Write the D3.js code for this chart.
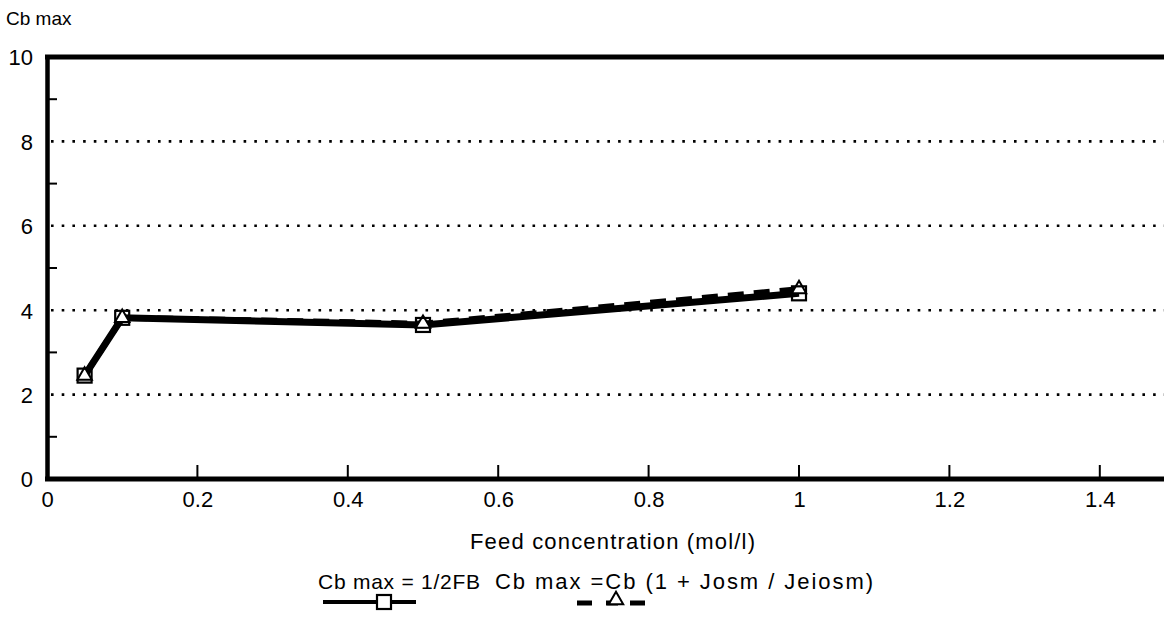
<!doctype html>
<html>
<head>
<meta charset="utf-8">
<script src="https://d3js.org/d3.v7.min.js"></script>
<style>
  body { margin: 0; background: #fff; }
  text { font-family: "Liberation Sans", Arial, sans-serif; fill: #000; }
</style>
</head>
<body>
<svg width="1164" height="620" id="chart"></svg>
<script>
// data
var feed = [0.05, 0.1, 0.5, 1.0];
var cbHalfFB = [2.45, 3.82, 3.65, 4.4];     // Cb max = 1/2FB
var cbJosm = [2.45, 3.82, 3.68, 4.5];       // Cb max = Cb (1 + Josm / Jeiosm)
var xTicks = [0, 0.2, 0.4, 0.6, 0.8, 1, 1.2, 1.4];
var yTicks = [0, 2, 4, 6, 8, 10];
var yMinor = [1, 3, 5, 7, 9];
var yGrid = [2, 4, 6, 8];

var svg = d3.select("svg");

var x = d3.scaleLinear().domain([0, 1]).range([47, 799]),
    y = d3.scaleLinear().domain([0, 10]).range([479, 57]);

// dotted grid
svg.selectAll(".grid")
   .data(yGrid)
   .enter().append("line")
   .attr("x1", x(0) + 4).attr("x2", 1164)
   .attr("y1", d => y(d)).attr("y2", d => y(d))
   .attr("stroke", "#000")
   .attr("stroke-width", 2.6)
   .attr("stroke-dasharray", "2.6,8.1");

// top frame line
svg.append("line")
   .attr("x1", x(0) - 2).attr("x2", 1164)
   .attr("y1", y(10)).attr("y2", y(10))
   .attr("stroke", "#000").attr("stroke-width", 5);

// y axis
var yAxis = d3.axisLeft(y).tickValues(yTicks).tickSize(0).tickPadding(14);
var gy = svg.append("g").attr("transform", "translate(" + x(0) + ",0)").call(yAxis);
gy.select(".domain").attr("stroke-width", 4.5);
gy.selectAll("text").attr("font-size", "22px").attr("dy", "0.36em");
svg.selectAll(".yminor")
   .data(yMinor)
   .enter().append("line")
   .attr("x1", x(0)).attr("x2", x(0) + 10)
   .attr("y1", d => y(d)).attr("y2", d => y(d))
   .attr("stroke", "#000").attr("stroke-width", 2);

// x axis
var xAxis = d3.axisBottom(x).tickValues(xTicks).tickSize(0).tickPadding(12)
    .tickFormat(d => d3.format("")(d));
var gx = svg.append("g").attr("transform", "translate(0," + y(0) + ")").call(xAxis);
gx.select(".domain").remove();
gx.selectAll("text").attr("font-size", "22px");
svg.append("line")
   .attr("x1", x(0) - 2).attr("x2", 1164)
   .attr("y1", y(0)).attr("y2", y(0))
   .attr("stroke", "#000").attr("stroke-width", 5);
svg.selectAll(".xtick")
   .data(xTicks.filter(d => d > 0))
   .enter().append("line")
   .attr("x1", d => x(d)).attr("x2", d => x(d))
   .attr("y1", y(0)).attr("y2", y(0) - 14)
   .attr("stroke", "#000").attr("stroke-width", 2);

// titles
svg.append("text").attr("x", 6).attr("y", 25)
   .attr("font-size", "19px")
   .text("Cb max");
svg.append("text").attr("x", 470).attr("y", 549)
   .attr("font-size", "22px")
   .attr("textLength", 285).attr("lengthAdjust", "spacing")
   .text("Feed concentration (mol/l)");

// series
var line = d3.line().x((d, i) => x(feed[i])).y(d => y(d));
svg.append("path").datum(cbJosm)
   .attr("d", line).attr("fill", "none")
   .attr("stroke", "#000").attr("stroke-width", 6)
   .attr("stroke-dasharray", "16,10");
svg.append("path").datum(cbHalfFB)
   .attr("d", line).attr("fill", "none")
   .attr("stroke", "#000").attr("stroke-width", 7);

var tri = d3.symbol().type(d3.symbolTriangle).size(90);
svg.selectAll(".tri")
   .data(cbJosm)
   .enter().append("path")
   .attr("d", tri)
   .attr("transform", (d, i) => "translate(" + x(feed[i]) + "," + y(d) + ")")
   .attr("fill", "#fff").attr("stroke", "#000").attr("stroke-width", 2);
svg.selectAll(".sq")
   .data(cbHalfFB)
   .enter().append("rect")
   .attr("x", (d, i) => x(feed[i]) - 7).attr("y", d => y(d) - 7)
   .attr("width", 14).attr("height", 14)
   .attr("fill", "none").attr("stroke", "#000").attr("stroke-width", 2.2);

// legend
svg.append("text").attr("x", 318).attr("y", 589)
   .attr("font-size", "21px")
   .attr("textLength", 162).attr("lengthAdjust", "spacing")
   .text("Cb max = 1/2FB");
svg.append("line").attr("x1", 323).attr("x2", 416)
   .attr("y1", 602).attr("y2", 602)
   .attr("stroke", "#000").attr("stroke-width", 4);
svg.append("rect").attr("x", 377).attr("y", 595)
   .attr("width", 14).attr("height", 14)
   .attr("fill", "#fff").attr("stroke", "#000").attr("stroke-width", 2.2);

svg.append("text").attr("x", 495).attr("y", 589)
   .attr("font-size", "22px")
   .attr("textLength", 378).attr("lengthAdjust", "spacing")
   .text("Cb max =Cb (1 + Josm / Jeiosm)");
svg.append("line").attr("x1", 577).attr("x2", 645)
   .attr("y1", 603).attr("y2", 603)
   .attr("stroke", "#000").attr("stroke-width", 5)
   .attr("stroke-dasharray", "15,14,12,12,15");
svg.append("path").attr("d", tri)
   .attr("transform", "translate(616,600)")
   .attr("fill", "#fff").attr("stroke", "#000").attr("stroke-width", 2);
</script>
</body>
</html>
